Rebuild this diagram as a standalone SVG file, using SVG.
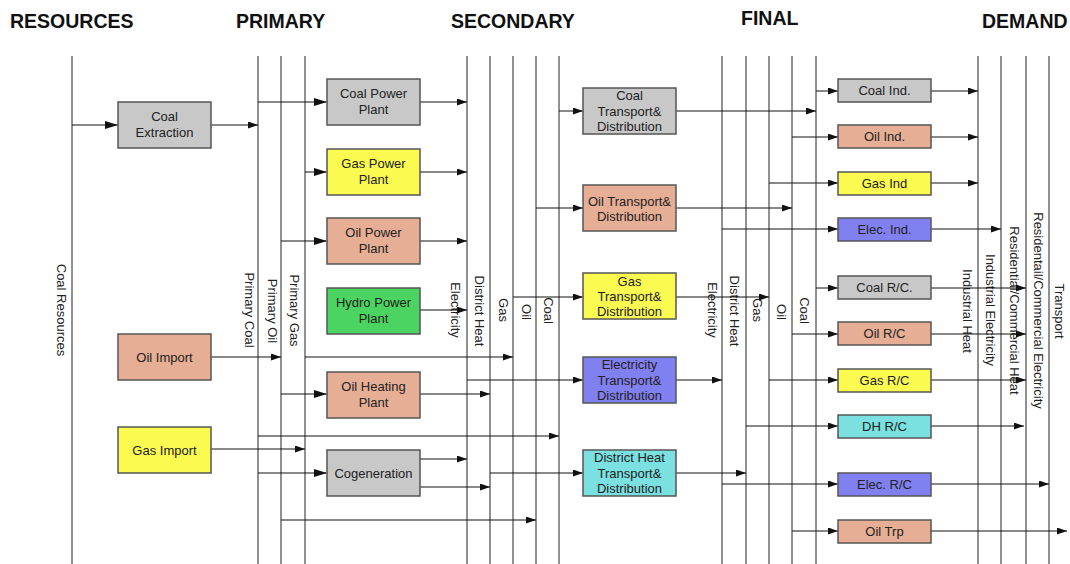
<svg xmlns="http://www.w3.org/2000/svg" width="1070" height="564" viewBox="0 0 1070 564">
<style>
.title{font-family:"Liberation Sans",Arial,sans-serif;font-weight:bold;font-size:19.5px;fill:#111}
.t{font-family:"Liberation Sans",Arial,sans-serif;font-size:13px;fill:#222;text-anchor:middle}
.v{font-family:"Liberation Sans",Arial,sans-serif;font-size:13px;fill:#222;text-anchor:middle}
.box{stroke:#555;stroke-width:1.5}
.gray{fill:#c8c8c8}.yel{fill:#fafa50}.sal{fill:#e6ae94}.grn{fill:#4cd462}.blu{fill:#8080f0}.cyn{fill:#7ae0e0}
.vl{stroke:#222;stroke-width:1;fill:none}
.c{stroke:#111;stroke-width:1;fill:none;marker-end:url(#a)}
.cb{stroke:#111;stroke-width:1;fill:none;marker-end:url(#ab)}
</style>
<defs>
<marker id="a" markerUnits="userSpaceOnUse" markerWidth="10" markerHeight="7" refX="10" refY="3.5" orient="auto"><path d="M0,0 L10,3.5 L0,7 z" fill="#111"/></marker>
<marker id="ab" markerUnits="userSpaceOnUse" markerWidth="13" markerHeight="8" refX="13" refY="4" orient="auto"><path d="M0,0 L13,4 L0,8 z" fill="#111"/></marker>
</defs>
<rect width="1070" height="564" fill="#fff"/>
<g id="titles">
<text class="title" x="10" y="28">RESOURCES</text>
<text class="title" x="236" y="28">PRIMARY</text>
<text class="title" x="451" y="28">SECONDARY</text>
<text class="title" x="741" y="25">FINAL</text>
<text class="title" x="982" y="28">DEMAND</text>
</g>
<g id="buses">
<g class="vl">
<line x1="72" y1="56" x2="72" y2="564"/>
<line x1="258" y1="56" x2="258" y2="564"/>
<line x1="281" y1="56" x2="281" y2="564"/>
<line x1="305" y1="56" x2="305" y2="564"/>
<line x1="467" y1="56" x2="467" y2="564"/>
<line x1="490" y1="56" x2="490" y2="564"/>
<line x1="513" y1="56" x2="513" y2="564"/>
<line x1="536" y1="56" x2="536" y2="564"/>
<line x1="559" y1="56" x2="559" y2="564"/>
<line x1="722" y1="56" x2="722" y2="564"/>
<line x1="746" y1="56" x2="746" y2="564"/>
<line x1="769" y1="56" x2="769" y2="564"/>
<line x1="792" y1="56" x2="792" y2="564"/>
<line x1="816" y1="56" x2="816" y2="564"/>
<line x1="978" y1="56" x2="978" y2="564"/>
<line x1="1001" y1="56" x2="1001" y2="564"/>
<line x1="1026" y1="56" x2="1026" y2="564"/>
<line x1="1049" y1="56" x2="1049" y2="564"/>
</g>
<text class="v" transform="translate(57,310) rotate(90)">Coal Resources</text>
<text class="v" transform="translate(244.5,310) rotate(90)">Primary Coal</text>
<text class="v" transform="translate(268,311) rotate(90)">Primary Oil</text>
<text class="v" transform="translate(290,310.5) rotate(90)">Primary Gas</text>
<text class="v" transform="translate(451,310) rotate(90)">Electricity</text>
<text class="v" transform="translate(474.5,311) rotate(90)">District Heat</text>
<text class="v" transform="translate(498.5,310) rotate(90)">Gas</text>
<text class="v" transform="translate(521.5,312) rotate(90)">Oil</text>
<text class="v" transform="translate(544,310.5) rotate(90)">Coal</text>
<text class="v" transform="translate(708,310) rotate(90)">Electricity</text>
<text class="v" transform="translate(729.5,311) rotate(90)">District Heat</text>
<text class="v" transform="translate(753,310) rotate(90)">Gas</text>
<text class="v" transform="translate(777,312) rotate(90)">Oil</text>
<text class="v" transform="translate(800,310.5) rotate(90)">Coal</text>
<text class="v" transform="translate(963,311) rotate(90)">Industrial Heat</text>
<text class="v" transform="translate(986,310) rotate(90)">Industrial Electricity</text>
<text class="v" transform="translate(1010,310.5) rotate(90)">Residential/Commercial Heat</text>
<text class="v" transform="translate(1034,310.5) rotate(90)">Residentail/Commercial Electricity</text>
<text class="v" transform="translate(1055,311) rotate(90)">Transport</text>
</g>
<g id="connectors">
<line class="cb" x1="72" y1="125" x2="118" y2="125"/>
<line class="c" x1="211" y1="125" x2="258" y2="125"/>
<line class="c" x1="211" y1="357" x2="281" y2="357"/>
<line class="c" x1="211" y1="449" x2="305" y2="449"/>
<line class="cb" x1="258" y1="102" x2="327" y2="102"/>
<line class="cb" x1="305" y1="172" x2="327" y2="172"/>
<line class="cb" x1="281" y1="241" x2="327" y2="241"/>
<line class="cb" x1="281" y1="394" x2="327" y2="394"/>
<line class="cb" x1="258" y1="473" x2="327" y2="473"/>
<line class="c" x1="258" y1="436" x2="559" y2="436"/>
<line class="c" x1="281" y1="520" x2="536" y2="520"/>
<line class="c" x1="305" y1="357" x2="513" y2="357"/>
<line class="c" x1="420" y1="102" x2="467" y2="102"/>
<line class="c" x1="420" y1="172" x2="467" y2="172"/>
<line class="c" x1="420" y1="241" x2="467" y2="241"/>
<line class="c" x1="420" y1="310" x2="467" y2="310"/>
<line class="c" x1="420" y1="394" x2="490" y2="394"/>
<line class="c" x1="420" y1="459" x2="467" y2="459"/>
<line class="c" x1="420" y1="487" x2="490" y2="487"/>
<line class="c" x1="559" y1="111" x2="583" y2="111"/>
<line class="c" x1="536" y1="208" x2="583" y2="208"/>
<line class="c" x1="513" y1="297" x2="583" y2="297"/>
<line class="c" x1="467" y1="380" x2="583" y2="380"/>
<line class="c" x1="490" y1="473" x2="583" y2="473"/>
<line class="c" x1="676" y1="111" x2="816" y2="111"/>
<line class="c" x1="676" y1="208" x2="792" y2="208"/>
<line class="c" x1="676" y1="297" x2="769" y2="297"/>
<line class="c" x1="676" y1="380" x2="722" y2="380"/>
<line class="c" x1="676" y1="473" x2="746" y2="473"/>
<line class="c" x1="816" y1="91" x2="838" y2="91"/>
<line class="c" x1="792" y1="137" x2="838" y2="137"/>
<line class="c" x1="769" y1="183" x2="838" y2="183"/>
<line class="c" x1="722" y1="229" x2="838" y2="229"/>
<line class="c" x1="816" y1="288" x2="838" y2="288"/>
<line class="c" x1="792" y1="334" x2="838" y2="334"/>
<line class="c" x1="769" y1="380" x2="838" y2="380"/>
<line class="c" x1="746" y1="426" x2="838" y2="426"/>
<line class="c" x1="722" y1="484" x2="838" y2="484"/>
<line class="c" x1="792" y1="531" x2="838" y2="531"/>
<line class="c" x1="931" y1="91" x2="978" y2="91"/>
<line class="c" x1="931" y1="137" x2="978" y2="137"/>
<line class="c" x1="931" y1="183" x2="978" y2="183"/>
<line class="c" x1="931" y1="229" x2="1001" y2="229"/>
<line class="c" x1="931" y1="288" x2="1026" y2="288"/>
<line class="c" x1="931" y1="334" x2="1026" y2="334"/>
<line class="c" x1="931" y1="380" x2="1026" y2="380"/>
<line class="c" x1="931" y1="426" x2="1024" y2="426"/>
<line class="c" x1="931" y1="484" x2="1049" y2="484"/>
<line class="c" x1="931" y1="531" x2="1067" y2="531"/>
</g>
<g id="coal-extraction"><rect class="box gray" x="118" y="102" width="93" height="46"/><text class="t" x="164.5" y="121">Coal</text><text class="t" x="164.5" y="137">Extraction</text></g>
<g id="oil-import"><rect class="box sal" x="118" y="334" width="93" height="46"/><text class="t" x="164.5" y="361.5">Oil Import</text></g>
<g id="gas-import"><rect class="box yel" x="118" y="427" width="93" height="46"/><text class="t" x="164.5" y="454.5">Gas Import</text></g>
<g id="coal-power-plant"><rect class="box gray" x="327" y="79" width="93" height="46"/><text class="t" x="373.5" y="97.5">Coal Power</text><text class="t" x="373.5" y="113.5">Plant</text></g>
<g id="gas-power-plant"><rect class="box yel" x="327" y="149" width="93" height="46"/><text class="t" x="373.5" y="167.5">Gas Power</text><text class="t" x="373.5" y="183.5">Plant</text></g>
<g id="oil-power-plant"><rect class="box sal" x="327" y="218" width="93" height="46"/><text class="t" x="373.5" y="236.5">Oil Power</text><text class="t" x="373.5" y="252.5">Plant</text></g>
<g id="hydro-power-plant"><rect class="box grn" x="327" y="288" width="93" height="46"/><text class="t" x="373.5" y="306.5">Hydro Power</text><text class="t" x="373.5" y="322.5">Plant</text></g>
<g id="oil-heating-plant"><rect class="box sal" x="327" y="372" width="93" height="46"/><text class="t" x="373.5" y="390.5">Oil Heating</text><text class="t" x="373.5" y="406.5">Plant</text></g>
<g id="cogeneration"><rect class="box gray" x="327" y="450" width="93" height="46"/><text class="t" x="373.5" y="477.5">Cogeneration</text></g>
<g id="coal-transport"><rect class="box gray" x="583" y="88" width="93" height="46"/><text class="t" x="629.5" y="100">Coal</text><text class="t" x="629.5" y="115.5">Transport&amp;</text><text class="t" x="629.5" y="130.5">Distribution</text></g>
<g id="oil-transport"><rect class="box sal" x="583" y="185" width="93" height="46"/><text class="t" x="629.5" y="205.5">Oil Transport&amp;</text><text class="t" x="629.5" y="220.5">Distribution</text></g>
<g id="gas-transport"><rect class="box yel" x="583" y="273" width="93" height="46"/><text class="t" x="629.5" y="285.5">Gas</text><text class="t" x="629.5" y="301">Transport&amp;</text><text class="t" x="629.5" y="316">Distribution</text></g>
<g id="electricity-transport"><rect class="box blu" x="583" y="357" width="93" height="46"/><text class="t" x="629.5" y="369">Electricity</text><text class="t" x="629.5" y="384.5">Transport&amp;</text><text class="t" x="629.5" y="399.5">Distribution</text></g>
<g id="dh-transport"><rect class="box cyn" x="583" y="450" width="93" height="46"/><text class="t" x="629.5" y="462">District Heat</text><text class="t" x="629.5" y="477.5">Transport&amp;</text><text class="t" x="629.5" y="492.5">Distribution</text></g>
<g id="coal-ind"><rect class="box gray" x="838" y="79" width="93" height="23"/><text class="t" x="884.5" y="95">Coal Ind.</text></g>
<g id="oil-ind"><rect class="box sal" x="838" y="125" width="93" height="23"/><text class="t" x="884.5" y="141">Oil Ind.</text></g>
<g id="gas-ind"><rect class="box yel" x="838" y="172" width="93" height="23"/><text class="t" x="884.5" y="188">Gas Ind</text></g>
<g id="elec-ind"><rect class="box blu" x="838" y="218" width="93" height="23"/><text class="t" x="884.5" y="234">Elec. Ind.</text></g>
<g id="coal-rc"><rect class="box gray" x="838" y="276" width="93" height="23"/><text class="t" x="884.5" y="292">Coal R/C.</text></g>
<g id="oil-rc"><rect class="box sal" x="838" y="322" width="93" height="23"/><text class="t" x="884.5" y="338">Oil R/C</text></g>
<g id="gas-rc"><rect class="box yel" x="838" y="369" width="93" height="23"/><text class="t" x="884.5" y="385">Gas R/C</text></g>
<g id="dh-rc"><rect class="box cyn" x="838" y="415" width="93" height="23"/><text class="t" x="884.5" y="431">DH R/C</text></g>
<g id="elec-rc"><rect class="box blu" x="838" y="473" width="93" height="23"/><text class="t" x="884.5" y="489">Elec. R/C</text></g>
<g id="oil-trp"><rect class="box sal" x="838" y="520" width="93" height="23"/><text class="t" x="884.5" y="536">Oil Trp</text></g>
</svg>
